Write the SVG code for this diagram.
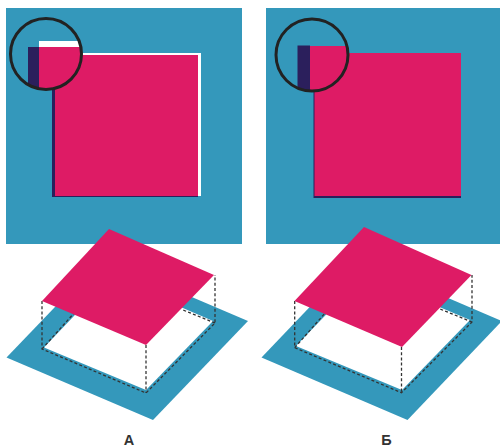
<svg xmlns="http://www.w3.org/2000/svg" width="500" height="448" viewBox="0 0 500 448">
<style>
.b{fill:#3498bb}.m{fill:#de1b65}.d{fill:#2b1f5c}.w{fill:#fff}
.ring{fill:none;stroke:#222;stroke-width:3}
.dash{fill:none;stroke:#333;stroke-width:1.3;stroke-dasharray:3 2.2}
.lab{font-family:"Liberation Sans",Arial,sans-serif;font-weight:700;font-size:14.500px;fill:#333;text-anchor:middle}
</style>
<defs>
<clipPath id="c1"><circle cx="46" cy="54" r="35"/></clipPath>
<clipPath id="c2"><circle cx="312" cy="55" r="36"/></clipPath>
</defs>
<g id="top-a">
<rect class="b" x="6" y="8" width="236" height="236"/>
<rect class="w" x="53" y="53" width="148" height="143"/>
<rect class="d" x="52" y="55" width="146" height="142"/>
<rect class="m" x="55" y="55" width="143" height="141"/>
<g clip-path="url(#c1)">
<rect class="b" x="10" y="18" width="72" height="72"/>
<rect class="d" x="28" y="47" width="11" height="45"/>
<rect class="w" x="39" y="41" width="45" height="6"/>
<rect class="m" x="39" y="47" width="45" height="45"/>
</g>
<circle class="ring" cx="46" cy="54" r="35.500"/>
</g>
<g id="top-b">
<rect class="b" x="266" y="8" width="234" height="236"/>
<rect class="d" x="313.500" y="53" width="147.500" height="145"/>
<rect class="m" x="314.500" y="53" width="146.500" height="143"/>
<g clip-path="url(#c2)">
<rect class="b" x="276" y="19" width="72" height="72"/>
<rect class="d" x="297.500" y="45.500" width="12.500" height="47"/>
<rect class="m" x="310" y="46" width="40" height="47"/>
</g>
<circle class="ring" cx="312" cy="55" r="36"/>
</g>
<g id="iso-a">
<polygon class="b" points="6.500,357.500 101.500,258.500 248,321 153,420"/>
<polygon class="w" points="44,347.500 111,277 213,321 146,390"/>
<path class="dash" d="M42,301V349L146,393L215,323V275M146,345V393M42,349L75,312M215,323L183,310"/>
<polygon class="m" points="42,301 109,229 214,275 146,345"/>
</g>
<g id="iso-b">
<polygon class="b" points="261.500,357.500 356,258.500 502,321 407.500,420"/>
<polygon class="w" points="296,346 364,275 470,320 402,390"/>
<path class="dash" d="M294.700,301V347.700L401.500,392.700L472,322V275M401.500,347V392.700M294.700,347.700L326,312M472,322L440,309"/>
<polygon class="m" points="294.500,301 364,227 471.500,275 402,347"/>
</g>
<text id="label-a" class="lab" x="129" y="445">А</text>
<text id="label-b" class="lab" x="386.500" y="445">Б</text>
</svg>
